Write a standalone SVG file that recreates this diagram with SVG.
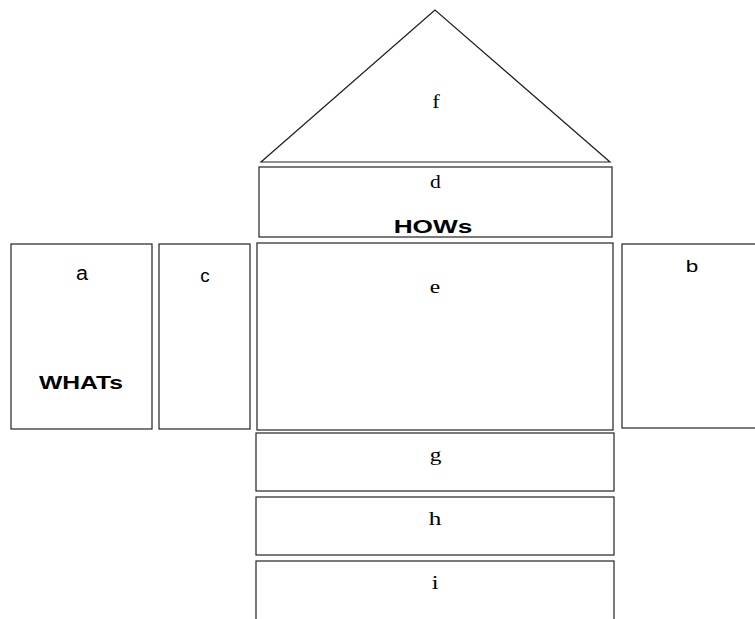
<svg xmlns="http://www.w3.org/2000/svg" width="755" height="619" viewBox="0 0 755 619">
<style>
.box{fill:#fff;stroke:#222;stroke-width:1.2}
.s{font-family:"Liberation Serif",serif;font-size:18px;fill:#000;text-anchor:middle}
.a{font-family:"Liberation Sans",Arial,sans-serif;font-size:18px;fill:#000;text-anchor:middle}
.b{font-family:"Liberation Sans",Arial,sans-serif;font-size:19px;font-weight:bold;fill:#000;text-anchor:middle}
</style>
<rect width="755" height="619" fill="#fff"/>
<g id="f"><polygon class="box" points="435,10 261,162 610,162"/><text class="s" transform="translate(436,108) scale(1.25,1.05)">f</text></g>
<g id="d"><rect class="box" x="259" y="167" width="353" height="70"/><text class="s" transform="translate(435.5,187.5) scale(1.2,1)">d</text><text class="b" transform="translate(433,232.5) scale(1.38,1)">HOWs</text></g>
<g id="a"><rect class="box" x="11" y="244" width="141" height="185"/><text class="a" transform="translate(82,280) scale(1.2,1.1)">a</text><text class="b" transform="translate(81,389) scale(1.3,1)">WHATs</text></g>
<g id="c"><rect class="box" x="159" y="244" width="91" height="185"/><text class="a" transform="translate(205,281.5) scale(1.05,1)">c</text></g>
<g id="e"><rect class="box" x="257" y="243" width="356" height="187"/><text class="s" transform="translate(435,293) scale(1.3,1.05)">e</text></g>
<g id="b"><rect class="box" x="622" y="244" width="140" height="184"/><text class="a" transform="translate(692,272) scale(1.25,0.95)">b</text></g>
<g id="g"><rect class="box" x="256" y="433" width="358" height="58"/><text class="s" transform="translate(435.5,461) scale(1.3,1.05)">g</text></g>
<g id="h"><rect class="box" x="256" y="497" width="358" height="58"/><text class="s" transform="translate(435,525) scale(1.4,1.05)">h</text></g>
<g id="i"><rect class="box" x="256" y="561" width="358" height="70"/><text class="s" transform="translate(435,589) scale(1.35,1.1)">i</text></g>
<g id="connectors"></g>
</svg>
